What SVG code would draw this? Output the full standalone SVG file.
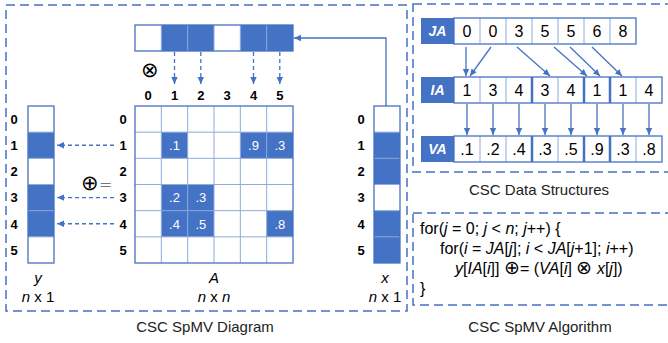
<svg xmlns="http://www.w3.org/2000/svg" width="668" height="343" viewBox="0 0 668 343">
<defs>
<style>
.dash{fill:none;stroke:#4472C4;stroke-width:1.5;stroke-dasharray:9,5}
.fill{fill:#4472C4}
.grid{stroke:#8FAADC;stroke-width:1;fill:none}
.out{fill:none;stroke:#4472C4;stroke-width:1.3}
.t{font-family:"Liberation Sans",Arial,sans-serif;fill:#000}
.lbl{font-family:"Liberation Sans",Arial,sans-serif;font-weight:bold;font-size:13px;text-anchor:middle;fill:#000}
.cv{font-family:"Liberation Sans",Arial,sans-serif;font-size:13px;text-anchor:middle;fill:#fff}
.num{font-family:"Liberation Sans",Arial,sans-serif;font-size:16px;text-anchor:middle;fill:#000}
.tag{font-family:"Liberation Sans",Arial,sans-serif;font-size:14px;font-weight:bold;font-style:italic;text-anchor:middle;fill:#fff}
.cap{font-family:"Liberation Sans",Arial,sans-serif;font-size:15px;text-anchor:middle;fill:#222}
.sym{font-family:"DejaVu Sans",sans-serif;font-weight:200;fill:#000}
.ar{stroke:#4472C4;stroke-width:1.3;fill:none;marker-end:url(#ah)}
.ard{stroke:#4472C4;stroke-width:1.3;fill:none;stroke-dasharray:4,3;marker-end:url(#ah)}
.sep{stroke:#4472C4;stroke-width:2.5}
</style>
<marker id="ah" markerWidth="8" markerHeight="8" refX="7" refY="4" orient="auto" markerUnits="userSpaceOnUse">
<path d="M0,0.8 L7,4 L0,7.2 Z" fill="#4472C4"/>
</marker>
</defs>

<!-- panels -->
<rect class="dash" x="6" y="5" width="401" height="306"/>
<rect class="dash" x="413" y="4" width="270" height="168"/>
<rect class="dash" x="413" y="213" width="270" height="92"/>

<!-- top vector (x row) -->
<g id="xrow">
<rect class="fill" x="161.33" y="25" width="52.67" height="26"/>
<rect class="fill" x="240.33" y="25" width="52.67" height="26"/>
<path class="grid" d="M161.33,25V51M187.67,25V51M214,25V51M240.33,25V51M266.67,25V51"/>
<rect class="out" x="135" y="25" width="158" height="26"/>
</g>
<text class="sym" x="150" y="77" font-size="21" text-anchor="middle">⊗</text>

<!-- column labels -->
<g id="collabels">
<text class="lbl" x="148.2" y="100">0</text>
<text class="lbl" x="174.5" y="100">1</text>
<text class="lbl" x="200.8" y="100">2</text>
<text class="lbl" x="227.2" y="100">3</text>
<text class="lbl" x="253.5" y="100">4</text>
<text class="lbl" x="279.8" y="100">5</text>
</g>

<!-- matrix A -->
<g id="A">
<rect class="fill" x="161.33" y="132.17" width="26.34" height="26.16"/>
<rect class="fill" x="240.33" y="132.17" width="52.67" height="26.16"/>
<rect class="fill" x="161.33" y="184.5" width="52.67" height="52.33"/>
<rect class="fill" x="266.67" y="210.67" width="26.33" height="26.16"/>
<path class="grid" d="M161.33,106V263M187.67,106V263M214,106V263M240.33,106V263M266.67,106V263M135,132.17H293M135,158.33H293M135,184.5H293M135,210.67H293M135,236.83H293"/>
<rect class="out" x="135" y="106" width="158" height="157"/>
<text class="cv" x="174.5" y="150">.1</text>
<text class="cv" x="253.5" y="150">.9</text>
<text class="cv" x="279.8" y="150">.3</text>
<text class="cv" x="174.5" y="202.3">.2</text>
<text class="cv" x="200.8" y="202.3">.3</text>
<text class="cv" x="174.5" y="228.5">.4</text>
<text class="cv" x="200.8" y="228.5">.5</text>
<text class="cv" x="279.8" y="228.5">.8</text>
<text class="lbl" x="123" y="124">0</text>
<text class="lbl" x="123" y="150">1</text>
<text class="lbl" x="123" y="176">2</text>
<text class="lbl" x="123" y="202.3">3</text>
<text class="lbl" x="123" y="228.5">4</text>
<text class="lbl" x="123" y="254.7">5</text>
<text class="t" x="214" y="283" font-size="15" font-style="italic" text-anchor="middle">A</text>
<text class="t" x="214" y="302" font-size="15" text-anchor="middle"><tspan font-style="italic">n</tspan> x <tspan font-style="italic">n</tspan></text>
</g>

<!-- vector y -->
<g id="y">
<rect class="fill" x="28" y="132.17" width="26" height="26.16"/>
<rect class="fill" x="28" y="184.5" width="26" height="52.33"/>
<path class="grid" d="M28,132.17H54M28,158.33H54M28,184.5H54M28,210.67H54M28,236.83H54"/>
<rect class="out" x="28" y="106" width="26" height="157"/>
<text class="lbl" x="14" y="124">0</text>
<text class="lbl" x="14" y="150">1</text>
<text class="lbl" x="14" y="176">2</text>
<text class="lbl" x="14" y="202.3">3</text>
<text class="lbl" x="14" y="228.5">4</text>
<text class="lbl" x="14" y="254.7">5</text>
<text class="t" x="38" y="283" font-size="15" font-style="italic" text-anchor="middle">y</text>
<text class="t" x="38" y="302" font-size="15" text-anchor="middle"><tspan font-style="italic">n</tspan> x 1</text>
</g>

<!-- vector x -->
<g id="x">
<rect class="fill" x="374" y="132.17" width="26" height="52.33"/>
<rect class="fill" x="374" y="210.67" width="26" height="52.33"/>
<path class="grid" d="M374,132.17H400M374,158.33H400M374,184.5H400M374,210.67H400M374,236.83H400"/>
<rect class="out" x="374" y="106" width="26" height="157"/>
<text class="lbl" x="361" y="124">0</text>
<text class="lbl" x="361" y="150">1</text>
<text class="lbl" x="361" y="176">2</text>
<text class="lbl" x="361" y="202.3">3</text>
<text class="lbl" x="361" y="228.5">4</text>
<text class="lbl" x="361" y="254.7">5</text>
<text class="t" x="385" y="283" font-size="15" font-style="italic" text-anchor="middle">x</text>
<text class="t" x="385" y="302" font-size="15" text-anchor="middle"><tspan font-style="italic">n</tspan> x 1</text>
</g>

<text class="sym" x="81" y="190" font-size="21">⊕<tspan font-size="16">=</tspan></text>

<!-- connectors -->
<g id="connectors">
<path class="ar" d="M386,106V38H294"/>
<path class="ard" d="M174.5,52V84"/>
<path class="ard" d="M200.8,52V84"/>
<path class="ard" d="M253.5,52V84"/>
<path class="ard" d="M279.8,52V84"/>
<path class="ard" d="M114,145.25H57"/>
<path class="ard" d="M114,197.6H57"/>
<path class="ard" d="M114,223.75H57"/>
<!-- JA to IA -->
<path class="ar" d="M466,47V76"/>
<path class="ar" d="M491,47L470,76"/>
<path class="ar" d="M517,47L550,76"/>
<path class="ar" d="M554,47L587,76"/>
<path class="ar" d="M570,47L600,76"/>
<path class="ar" d="M592,47L622,76"/>
<!-- IA to VA -->
<path class="ar" d="M467,104V135"/>
<path class="ar" d="M493,104V135"/>
<path class="ar" d="M519,104V135"/>
<path class="ar" d="M545,104V135"/>
<path class="ar" d="M571,104V135"/>
<path class="ar" d="M597,104V135"/>
<path class="ar" d="M623,104V135"/>
<path class="ar" d="M649,104V135"/>
</g>

<text class="cap" x="205" y="332">CSC SpMV Diagram</text>

<!-- JA -->
<g id="JA">
<rect class="fill" x="421" y="18" width="33" height="26"/>
<text class="tag" x="437.5" y="36">JA</text>
<path class="grid" d="M480,18V44M506,18V44M532,18V44M558,18V44M584,18V44M610,18V44"/>
<rect class="out" x="454" y="18" width="182" height="26"/>
<text class="num" x="467" y="37">0</text>
<text class="num" x="493" y="37">0</text>
<text class="num" x="519" y="37">3</text>
<text class="num" x="545" y="37">5</text>
<text class="num" x="571" y="37">5</text>
<text class="num" x="597" y="37">6</text>
<text class="num" x="623" y="37">8</text>
</g>

<!-- IA -->
<g id="IA">
<rect class="fill" x="421" y="77" width="33" height="26"/>
<text class="tag" x="437.5" y="95">IA</text>
<path class="grid" d="M480,77V103M506,77V103M558,77V103M636,77V103"/>
<rect class="out" x="454" y="77" width="208" height="26"/>
<path class="sep" d="M532,77V103M584,77V103M610,77V103"/>
<text class="num" x="467" y="96">1</text>
<text class="num" x="493" y="96">3</text>
<text class="num" x="519" y="96">4</text>
<text class="num" x="545" y="96">3</text>
<text class="num" x="571" y="96">4</text>
<text class="num" x="597" y="96">1</text>
<text class="num" x="623" y="96">1</text>
<text class="num" x="649" y="96">4</text>
</g>

<!-- VA -->
<g id="VA">
<rect class="fill" x="421" y="136" width="33" height="26"/>
<text class="tag" x="437.5" y="154">VA</text>
<path class="grid" d="M480,136V162M506,136V162M558,136V162M636,136V162"/>
<rect class="out" x="454" y="136" width="208" height="26"/>
<path class="sep" d="M532,136V162M584,136V162M610,136V162"/>
<text class="num" x="467" y="155">.1</text>
<text class="num" x="493" y="155">.2</text>
<text class="num" x="519" y="155">.4</text>
<text class="num" x="545" y="155">.3</text>
<text class="num" x="571" y="155">.5</text>
<text class="num" x="597" y="155">.9</text>
<text class="num" x="623" y="155">.3</text>
<text class="num" x="649" y="155">.8</text>
</g>

<text class="cap" x="539" y="195">CSC Data Structures</text>

<!-- algorithm -->
<g id="code" class="t" font-size="16">
<text class="t" x="420" y="234">for(<tspan font-style="italic">j</tspan> = 0; <tspan font-style="italic">j</tspan> &lt; <tspan font-style="italic">n</tspan>; <tspan font-style="italic">j</tspan>++) {</text>
<text class="t" x="440" y="254">for(<tspan font-style="italic">i</tspan> = <tspan font-style="italic">JA</tspan>[<tspan font-style="italic">j</tspan>]; <tspan font-style="italic">i</tspan> &lt; <tspan font-style="italic">JA</tspan>[<tspan font-style="italic">j</tspan>+1]; <tspan font-style="italic">i</tspan>++)</text>
<text class="t" x="455" y="274"><tspan font-style="italic">y</tspan>[<tspan font-style="italic">IA</tspan>[<tspan font-style="italic">i</tspan>]] <tspan font-family="DejaVu Sans" font-weight="200" font-size="19">⊕</tspan>= (<tspan font-style="italic">VA</tspan>[<tspan font-style="italic">i</tspan>] <tspan font-family="DejaVu Sans" font-weight="200" font-size="19">⊗</tspan> <tspan font-style="italic">x</tspan>[<tspan font-style="italic">j</tspan>])</text>
<text class="t" x="420" y="294">}</text>
</g>

<text class="cap" x="540" y="332">CSC SpMV Algorithm</text>
</svg>
